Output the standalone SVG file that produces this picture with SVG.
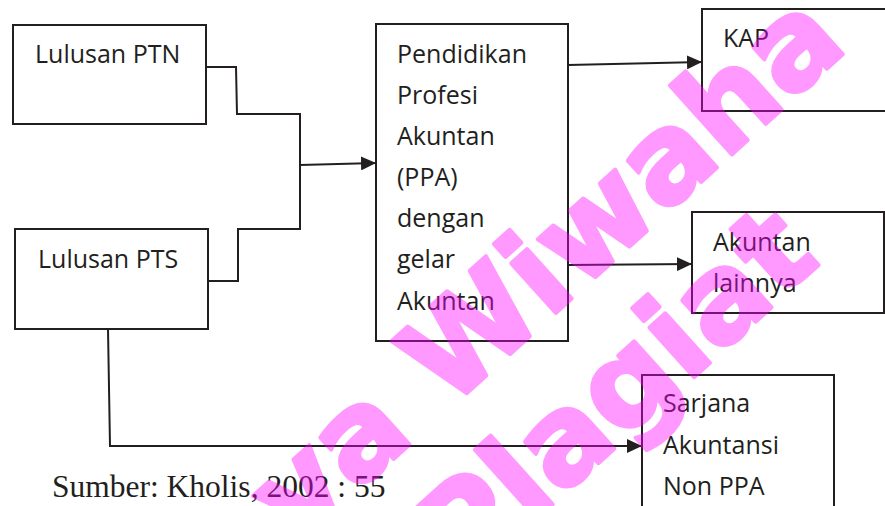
<svg xmlns="http://www.w3.org/2000/svg" width="885" height="506" viewBox="0 0 885 506">
<defs>
<style>
.box{fill:#fff;stroke:#231f20;stroke-width:2}
.lbl{font-family:"Open Sans","Noto Sans",sans-serif;font-size:25px;fill:#231f20}
.con{fill:none;stroke:#231f20;stroke-width:2}
.src{font-family:"Liberation Serif","Times New Roman",serif;font-size:31.5px;fill:#231f20}
.wm{font-family:"DejaVu Sans",Verdana,sans-serif;font-weight:bold;font-size:122px;fill:#ff00ff;stroke:#ff00ff;stroke-width:4;stroke-linejoin:round;opacity:0.4}
</style>
<marker id="ah" markerUnits="userSpaceOnUse" markerWidth="16" markerHeight="14" refX="15" refY="7" orient="auto">
<path d="M0,0 L15,7 L0,14 z" fill="#231f20"/>
</marker>
</defs>
<rect width="885" height="506" fill="#fff"/>
<g id="ptn"><rect class="box" x="13" y="25" width="193" height="99"/><text class="lbl" x="35" y="63">Lulusan PTN</text></g>
<g id="pts"><rect class="box" x="15" y="229" width="193" height="100"/><text class="lbl" x="38" y="268">Lulusan PTS</text></g>
<g id="ppa"><rect class="box" x="376" y="24" width="192" height="317"/>
<text class="lbl" x="397" y="63">Pendidikan</text>
<text class="lbl" x="397" y="104">Profesi</text>
<text class="lbl" x="397" y="145">Akuntan</text>
<text class="lbl" x="397" y="186">(PPA)</text>
<text class="lbl" x="397" y="227">dengan</text>
<text class="lbl" x="397" y="268">gelar</text>
<text class="lbl" x="397" y="310">Akuntan</text></g>
<g id="kap"><rect class="box" x="702" y="9" width="190" height="102"/><text class="lbl" x="723" y="47">KAP</text></g>
<g id="lain"><rect class="box" x="692" y="212" width="192" height="101"/><text class="lbl" x="713" y="251">Akuntan</text><text class="lbl" x="713" y="292">lainnya</text></g>
<g id="non"><rect class="box" x="642" y="375" width="192" height="140"/>
<text class="lbl" x="663" y="412">Sarjana</text>
<text class="lbl" x="663" y="454">Akuntansi</text>
<text class="lbl" x="663" y="495">Non PPA</text></g>
<g id="connectors">
<polyline class="con" points="206,67 236,67 237,114 300,114 300,229 238,229 238,281 208,281"/>
<line class="con" x1="300" y1="165" x2="376" y2="163" marker-end="url(#ah)"/>
<line class="con" x1="568" y1="65" x2="702" y2="62" marker-end="url(#ah)"/>
<line class="con" x1="568" y1="265" x2="692" y2="264" marker-end="url(#ah)"/>
<polyline class="con" points="108,329 110,446 642,446" marker-end="url(#ah)"/>
</g>
<text class="src" x="52" y="497">Sumber: Kholis, 2002 : 55</text>
<g id="watermark">
<text class="wm" text-anchor="end" transform="translate(850,48) rotate(-42)">ya Wiwaha</text>
<text class="wm" text-anchor="end" transform="translate(822,262) rotate(-42)">Plagiat</text>
</g>
</svg>
